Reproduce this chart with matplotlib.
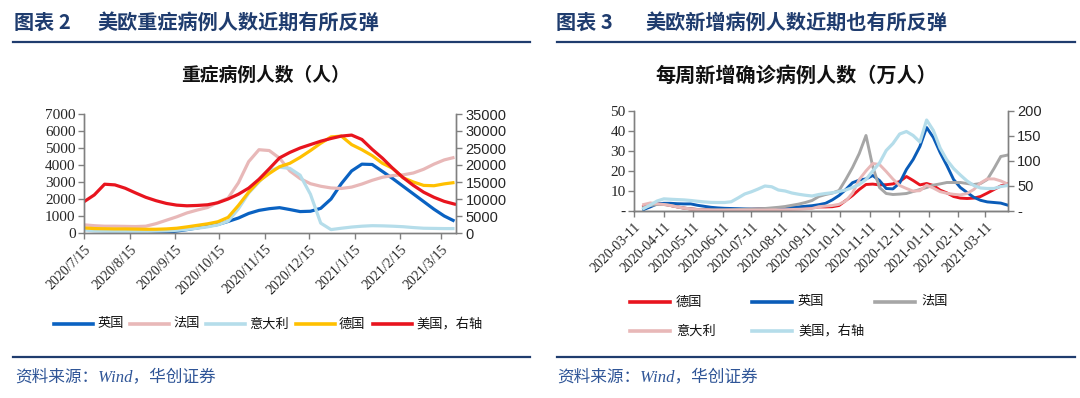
import numpy as np
import pandas as pd
import matplotlib
matplotlib.use("Agg")
import matplotlib.pyplot as plt
from matplotlib.lines import Line2D

plt.rcParams['font.family'] = ['Noto Sans CJK SC', 'DejaVu Sans']

# ---------------- 图表2：重症病例人数（每7天读一次） ----------------
icu_dates = pd.date_range("2020-07-15", "2021-03-24", freq="7D")
icu_uk = [np.nan, np.nan, np.nan, np.nan, np.nan, np.nan,
          0, 10, 40, 110, 200, 300, 400, 500, 680, 880, 1150, 1330, 1430, 1490, 1380,
          1260, 1280, 1450, 2000, 2900, 3650, 4050, 4030, 3620, 3200, 2750, 2300, 1850,
          1400, 1000, 700]
icu_fr = [480, 430, 400, 400, 390, 380, 400, 550, 750, 950, 1180, 1350, 1500, 1800,
          2050, 2950, 4200, 4900, 4850, 4400, 3650, 3200, 2900, 2750, 2650, 2620, 2700,
          2880, 3100, 3280, 3380, 3420, 3530, 3750, 4050, 4300, 4450]
icu_it = [180, 120, 100, 90, 85, 80, 90, 110, 130, 160, 210, 280, 360, 480, 700, 1420,
          2350, 3000, 3650, 3870, 3800, 3400, 2280, 580, 200, 280, 350, 400, 430, 420,
          400, 370, 320, 280, 270, 260, 260]
icu_de = [300, 260, 250, 240, 240, 230, 220, 220, 240, 280, 360, 450, 540, 660, 920,
          1620, 2400, 3050, 3500, 3900, 4100, 4450, 4850, 5280, 5650, 5700, 5200, 4900,
          4550, 4100, 3800, 3250, 3000, 2800, 2780, 2890, 2970]
icu_us = [9200, 11200, 14350, 14150, 13170, 11800, 10500, 9500, 8700, 8200, 8000, 8100,
          8300, 8900, 10000, 11400, 13200, 15800, 18900, 22100, 23700, 25000, 26000,
          27000, 27800, 28500, 28800, 27500, 24600, 22000, 19000, 16300, 14000, 12000,
          10500, 9300, 8500]
icu_names = ["英国", "法国", "意大利", "德国", "美国，右轴"]
icu_colors = ["#0A62C2", "#E8B8B8", "#B5DDEA", "#FFC000", "#E8141E"]
icu_ticks = pd.date_range("2020-07-01", "2021-03-01", freq="MS") + pd.Timedelta(days=14)

# ---------------- 图表3：每周新增确诊病例人数（万人） ----------------
new_dates = pd.date_range("2020-03-21", "2021-04-03", freq="7D")
new_de = [2.0, 3.3, 3.7, 3.2, 2.5, 1.8, 1.2, 0.8, 0.5, 0.4, 0.3, 0.3, 0.3, 0.3, 0.4,
          0.5, 0.6, 0.7, 0.8, 0.8, 0.9, 1.0, 1.0, 1.1, 1.3, 1.5,
          1.8, 1.8, 1.9, 2.5, 5.0, 7.5, 10.5, 13.0, 13.2, 12.8, 12.9, 13.3, 14.5, 17.0,
          15.0, 12.8, 13.5, 12.5, 10.2, 8.8, 7.0, 6.2, 6.0, 6.2, 7.0, 8.7, 10.5, 12.3, 13.3]
new_uk = [0.5, 1.8, 3.3, 3.6, 3.6, 3.4, 3.3, 3.3, 2.6, 2.1, 1.6, 1.3, 1.1, 1.0, 0.9,
          0.8, 0.7, 0.7, 0.7, 0.8, 1.0, 1.3, 1.6, 1.8, 2.1, 2.4,
          2.9, 3.6, 5.3, 7.5, 10.5, 13.9, 15.2, 15.8, 17.5, 15.0, 11.0, 10.8, 13.8, 20.5,
          25.5, 32.0, 41.5, 36.5, 29.0, 22.5, 15.5, 11.5, 9.0, 6.6, 5.1, 4.3, 4.0, 3.7, 2.7]
new_fr = [1.5, 2.5, 3.0, 3.0, 2.5, 1.8, 1.2, 0.8, 0.5, 0.4, 0.3, 0.3, 0.3, 0.4, 0.5,
          0.6, 0.7, 0.8, 1.0, 1.3, 1.6, 2.0, 2.6, 3.2, 4.0, 5.0,
          7.0, 8.0, 8.7, 10.0, 15.5, 21.5, 28.5, 37.5, 22.0, 11.5, 8.5, 8.0, 8.2, 8.5,
          9.5, 10.5, 11.5, 12.7, 13.3, 14.0, 14.0, 14.0, 13.5, 13.0, 13.5, 15.5, 21.0, 27.0, 27.7]
new_it = [3.0, 3.8, 3.4, 3.0, 2.5, 1.8, 1.2, 0.7, 0.4, 0.3, 0.2, 0.2, 0.2, 0.2, 0.2,
          0.2, 0.2, 0.2, 0.2, 0.3, 0.3, 0.4, 0.5, 0.6, 0.8, 1.0,
          1.9, 2.2, 2.5, 3.1, 4.8, 8.7, 15.5, 19.8, 23.5, 23.0, 19.5, 15.7, 12.5, 11.0,
          9.7, 9.9, 12.7, 11.2, 9.4, 8.6, 8.1, 7.8, 8.5, 10.5, 13.8, 15.8, 15.8, 14.8, 13.3]
new_us = [4, 11, 19, 23.3, 22.5, 21.8, 21.2, 20, 18.5, 17.2, 16.2, 16, 16, 17.5, 25,
          33, 37.5, 43, 49, 47.5, 41, 39, 35, 32.5, 30.5, 29,
          32, 34, 35.5, 38, 41, 46, 52, 62, 79, 95, 120, 134, 153, 158,
          150, 137, 181, 160, 125, 101, 84, 71, 59, 50, 45, 44, 44, 48, 50]
new_names = ["德国", "英国", "法国", "意大利", "美国，右轴"]
new_colors = ["#E8141E", "#0A5CB8", "#A6A6A6", "#E8B8B8", "#B5DDEA"]
new_ticks = pd.date_range("2020-03-01", "2021-03-01", freq="MS") + pd.Timedelta(days=10)

W, H = 1080, 398
def fx(x):
    return x / W
def fy(y):
    return 1 - y / H

NAVY = "#1F3C6E"
SRC = "#2F5597"
SPINE = "#808080"
TXT = "#262626"
SERIF = ["Liberation Serif", "DejaVu Serif"]
SANS = ["Liberation Sans", "DejaVu Sans"]

fig = plt.figure(figsize=(W / 100, H / 100), dpi=100)
fig.patch.set_facecolor("white")


def style_axes(ax, axr):
    for a in (ax, axr):
        a.spines["top"].set_visible(False)
        for s in ("left", "right", "bottom"):
            a.spines[s].set_color(SPINE)
            a.spines[s].set_linewidth(1.0)
        a.tick_params(direction="out", length=4, width=1, color=SPINE, colors=TXT)
        a.set_facecolor("none")
    ax.tick_params(axis="y", labelsize=11, pad=2)
    axr.tick_params(axis="y", labelsize=10.5, pad=3)
    for lb in ax.get_yticklabels():
        lb.set_fontfamily(SERIF)
    for lb in axr.get_yticklabels():
        lb.set_fontfamily(SANS)


# ---------- 左图 ----------
ax1 = fig.add_axes([fx(84), fy(233), fx(456) - fx(84), fy(114) - fy(233)])
ax1r = ax1.twinx()
for vals, c in zip([icu_uk, icu_fr, icu_it, icu_de], icu_colors[:4]):
    ax1.plot(icu_dates, vals, color=c, lw=2.3, solid_capstyle="butt")
ax1r.plot(icu_dates, icu_us, color=icu_colors[4], lw=2.3)
ax1.set_xlim(pd.Timestamp("2020-07-15"), pd.Timestamp("2021-03-25"))
ax1.set_ylim(0, 7000)
ax1r.set_ylim(0, 35000)
ax1.set_yticks(range(0, 7001, 1000))
ax1r.set_yticks(range(0, 35001, 5000))
ax1.set_xticks(icu_ticks)
ax1.set_xticklabels([f"{d.year}/{d.month}/{d.day}" for d in icu_ticks],
                    rotation=45, ha="right", rotation_mode="anchor",
                    fontsize=10, family=SERIF)
style_axes(ax1, ax1r)
ax1.tick_params(axis="x", pad=3)

# ---------- 右图 ----------
ax2 = fig.add_axes([fx(634), fy(210.5), fx(1007.5) - fx(634), fy(110.5) - fy(210.5)])
ax2r = ax2.twinx()
for vals, c in zip([new_de, new_uk, new_fr, new_it], new_colors[:4]):
    ax2.plot(new_dates, vals, color=c, lw=2.1)
ax2r.plot(new_dates, new_us, color=new_colors[4], lw=2.3)
ax2.set_xlim(pd.Timestamp("2020-03-11"), pd.Timestamp("2021-04-03"))
ax2.set_ylim(0, 50)
ax2r.set_ylim(0, 200)
ax2.set_yticks(range(0, 51, 10))
ax2.set_yticklabels(["-"] + [str(v) for v in range(10, 51, 10)])
ax2r.set_yticks(range(0, 201, 50))
ax2r.set_yticklabels(["-"] + [str(v) for v in range(50, 201, 50)])
ax2.set_xticks(new_ticks)
ax2.set_xticklabels([d.strftime("%Y-%m-%d") for d in new_ticks],
                    rotation=45, ha="right", rotation_mode="anchor",
                    fontsize=10, family=SERIF)
style_axes(ax2, ax2r)
ax2.tick_params(axis="x", pad=3)
ax2.spines["bottom"].set_color("#404040")

# ---------- 标题、分隔线、来源 ----------
for x0, x1 in [(13, 530), (557, 1075)]:
    for y in (42, 357):
        fig.add_artist(Line2D([fx(x0), fx(x1)], [fy(y), fy(y)], color=NAVY, lw=1.6))

fig.text(fx(14), fy(22), "图表 2", fontsize=14.5, weight="bold", color=NAVY, va="center")
fig.text(fx(97), fy(22), "美欧重症病例人数近期有所反弹", fontsize=14.5, weight="bold",
         color=NAVY, va="center")
fig.text(fx(556), fy(22), "图表 3", fontsize=14.5, weight="bold", color=NAVY, va="center")
fig.text(fx(645), fy(22), "美欧新增病例人数近期也有所反弹", fontsize=14.5, weight="bold",
         color=NAVY, va="center")

fig.text(fx(266), fy(75), "重症病例人数（人）", fontsize=13.5, weight="bold",
         color="#111111", ha="center", va="center")
fig.text(fx(796), fy(75), "每周新增确诊病例人数（万人）", fontsize=14.5, weight="bold",
         color="#111111", ha="center", va="center")

for x in (15, 557):
    fig.text(fx(x), fy(377), "资料来源：Wind，华创证券", fontsize=12, style="italic",
             color=SRC, va="center", family=["Liberation Serif", "Noto Sans CJK SC"])

# ---------- 图例 ----------
for name, c, x0 in zip(icu_names, icu_colors, [54, 130, 206, 296, 373]):
    fig.add_artist(Line2D([fx(x0), fx(x0 + 39)], [fy(324), fy(324)], color=c, lw=2.6))
    fig.text(fx(x0 + 43), fy(324), name, fontsize=9.5, color="#111111", va="center")

new_pos = [(630, 302), (752, 302), (875, 302), (630, 331), (752, 331)]
for name, c, (x0, y0) in zip(new_names, new_colors, new_pos):
    fig.add_artist(Line2D([fx(x0), fx(x0 + 40)], [fy(y0), fy(y0)], color=c, lw=2.6))
    fig.text(fx(x0 + 46), fy(y0), name, fontsize=9.5, color="#111111", va="center")

fig.savefig("out.png", dpi=100, facecolor="white")
